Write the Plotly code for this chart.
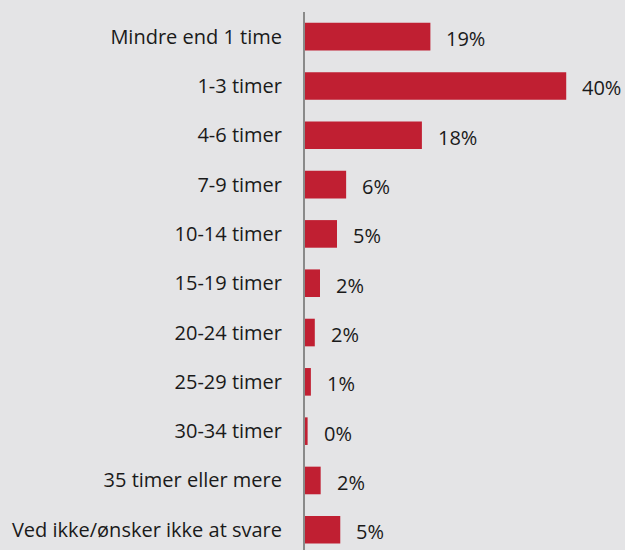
import plotly.graph_objects as go

categories = ["Mindre end 1 time", "1-3 timer", "4-6 timer", "7-9 timer", "10-14 timer",
              "15-19 timer", "20-24 timer", "25-29 timer", "30-34 timer",
              "35 timer eller mere", "Ved ikke/ønsker ikke at svare"]
values = [19.2, 40.0, 17.9, 6.3, 4.9, 2.3, 1.5, 0.9, 0.4, 2.4, 5.4]
labels = ["19%", "40%", "18%", "6%", "5%", "2%", "2%", "1%", "0%", "2%", "5%"]

pos = list(range(len(categories)))
BG = "#e4e4e6"
FONT = dict(family="Open Sans", size=20, color="#1a1a1a")

fig = go.Figure(go.Bar(
    x=values, y=pos, orientation="h",
    marker=dict(color="#c01f32", line=dict(width=0)),
    width=0.56, hoverinfo="skip",
))

for v, p, t in zip(values, pos, labels):
    fig.add_annotation(x=v, y=p, text=t, showarrow=False, xanchor="left",
                       xshift=14, yshift=-2, font=FONT)

fig.update_layout(
    width=625, height=550,
    margin=dict(l=305, r=0, t=12, b=0),
    paper_bgcolor=BG, plot_bgcolor=BG,
    font=FONT, showlegend=False,
    xaxis=dict(range=[0, 49], visible=False, fixedrange=True),
    yaxis=dict(range=[10.41, -0.5], tickmode="array", tickvals=pos, ticktext=categories,
               showline=True, linecolor="#8a8a8a", linewidth=2, showgrid=False,
               zeroline=False, ticks="", ticklabelstandoff=17, fixedrange=True),
)

fig.write_html("out.html")
